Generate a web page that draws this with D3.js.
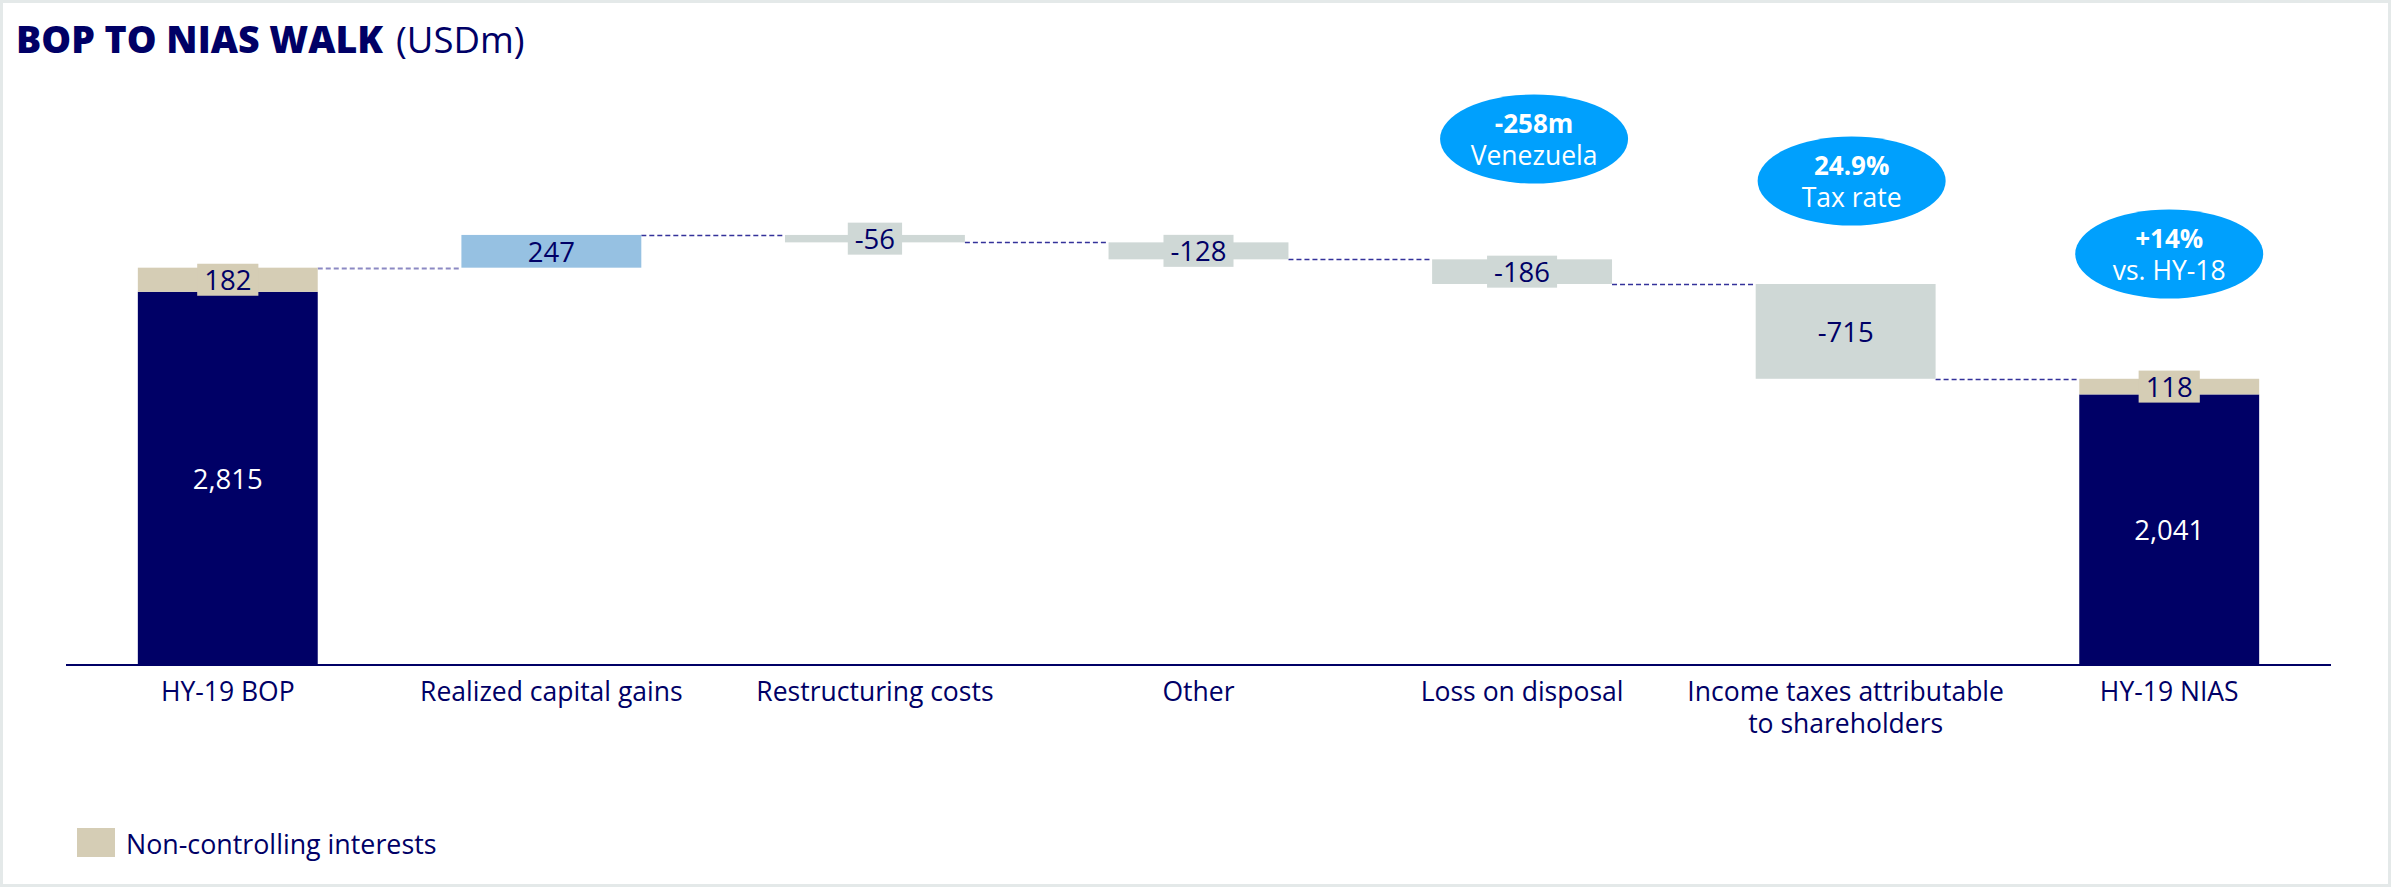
<!DOCTYPE html>
<html><head><meta charset="utf-8">
<script src="https://cdn.jsdelivr.net/npm/d3@7/dist/d3.min.js"></script>
<style>
html,body{margin:0;padding:0;background:#fff;}
svg{display:block;font-family:"Open Sans",sans-serif;}
</style></head>
<body>
<svg id="chart" width="2400" height="887"></svg>
<script>
// ---- data ----
const categories = ["HY-19 BOP","Realized capital gains","Restructuring costs","Other","Loss on disposal","Income taxes attributable to shareholders","HY-19 NIAS"];
const categoryLines = [["HY-19 BOP"],["Realized capital gains"],["Restructuring costs"],["Other"],["Loss on disposal"],["Income taxes attributable","to shareholders"],["HY-19 NIAS"]];
const barTypes = ["total","delta","delta","delta","delta","delta","total"];
const mainValues = [2815, 247, -56, -128, -186, -715, 2041];
const nciValues = [182, 0, 0, 0, 0, 0, 118];
const valueLabels = ["2,815","247","-56","-128","-186","-715","2,041"];
const nciLabels = ["182","","","","","","118"];
const bubbleCategories = ["Loss on disposal","Income taxes attributable to shareholders","HY-19 NIAS"];
const bubbleLine1 = ["-258m","24.9%","+14%"];
const bubbleLine2 = ["Venezuela","Tax rate","vs. HY-18"];
const legendLabel = "Non-controlling interests";

// ---- styles ----
const NAVY = "#000066", NCI = "#d5cdb5", POS = "#96c1e2", NEG = "#cfd8d6", BUBBLE = "#00a0fd";

const svg = d3.select("#chart");
// frame
svg.append("rect").attr("x",0).attr("y",0).attr("width",2400).attr("height",887).attr("fill","#fff");
svg.append("rect").attr("x",1.5).attr("y",1.5).attr("width",2388).attr("height",884).attr("fill","none").attr("stroke","#e4e9e9").attr("stroke-width",3);

const x = d3.scaleBand().domain(categories).range([66, 2331]).paddingInner(0.444).paddingOuter(0.222);
const y = d3.scaleLinear().domain([0, 3500]).range([665, 201]);

// build waterfall
let running = 0;
const bars = categories.map((c,i) => {
  const d = {cat:c, i};
  if (barTypes[i] === "total") {
    d.main = [0, mainValues[i]];
    d.nci = [mainValues[i], mainValues[i] + nciValues[i]];
    running = mainValues[i] + nciValues[i];
  } else {
    d.main = [running, running + mainValues[i]];
    running += mainValues[i];
  }
  d.end = running;
  return d;
});

const g = svg.append("g");

// connectors
for (let i = 0; i < bars.length - 1; i++) {
  const yy = Math.round(y(bars[i].end)) + 0.5;
  g.append("line")
    .attr("x1", x(categories[i]) + x.bandwidth()).attr("x2", x(categories[i+1]))
    .attr("y1", yy).attr("y2", yy)
    .attr("stroke", i === 0 ? "#8c89c3" : "#34329a")
    .attr("stroke-width", i === 0 ? 2 : 1.5)
    .attr("stroke-dasharray", "5,3");
}

// bars
bars.forEach((d,i) => {
  const lo = Math.min(...d.main), hi = Math.max(...d.main);
  const fill = barTypes[i] === "total" ? NAVY : (mainValues[i] >= 0 ? POS : NEG);
  g.append("rect").attr("x", x(d.cat)).attr("width", x.bandwidth())
    .attr("y", y(hi)).attr("height", y(lo) - y(hi)).attr("fill", fill);
  if (d.nci) {
    g.append("rect").attr("x", x(d.cat)).attr("width", x.bandwidth())
      .attr("y", y(d.nci[1])).attr("height", y(d.nci[0]) - y(d.nci[1])).attr("fill", NCI);
  }
});

// value labels
function boxedLabel(cx, cy, text, bg, color) {
  const t = g.append("text").attr("x", cx).attr("y", cy).attr("text-anchor","middle")
    .attr("dominant-baseline","central").attr("font-size",27.5).attr("fill",color).text(text);
  const w = t.node().getComputedTextLength();
  if (bg) {
    g.insert("rect", () => t.node()).attr("x", cx - w/2 - 7).attr("y", cy - 16)
      .attr("width", w + 14).attr("height", 32).attr("fill", bg);
  }
}
bars.forEach((d,i) => {
  const cx = x(d.cat) + x.bandwidth()/2;
  const lo = Math.min(...d.main), hi = Math.max(...d.main);
  const cy = (y(lo) + y(hi)) / 2;
  if (barTypes[i] === "total") {
    boxedLabel(cx, cy, valueLabels[i], null, "#fff");
    const ny = (y(d.nci[0]) + y(d.nci[1])) / 2;
    boxedLabel(cx, ny, nciLabels[i], NCI, NAVY);
  } else {
    const h = y(lo) - y(hi);
    const fill = mainValues[i] >= 0 ? POS : NEG;
    boxedLabel(cx, cy, valueLabels[i], h < 32 ? fill : null, NAVY);
  }
});

// axis
const axis = svg.append("g").attr("transform","translate(0,665)").call(d3.axisBottom(x).tickSize(0).tickFormat(""));
axis.select(".domain").attr("stroke", NAVY).attr("stroke-width", 2).attr("d","M66,0H2331");
axis.selectAll(".tick").each(function(c){
  const i = categories.indexOf(c);
  categoryLines[i].forEach((ln, k) => {
    d3.select(this).append("text").attr("fill", NAVY).attr("font-size",26.5)
      .attr("text-anchor","middle").attr("font-family","Open Sans, sans-serif")
      .attr("x",0).attr("y", 36 + k*32).text(ln);
  });
});

// bubbles
const bubbleCy = [139, 181, 254];
bubbleCategories.forEach((c,k) => {
  const cx = x(c) + x.bandwidth()/2 + (k === 0 ? 12 : (k === 1 ? 6 : 0));
  const cy = bubbleCy[k];
  svg.append("ellipse").attr("cx",cx).attr("cy",cy).attr("rx",94).attr("ry",44.5).attr("fill",BUBBLE);
  svg.append("text").attr("x",cx).attr("y",cy-6).attr("text-anchor","middle").attr("fill","#fff")
    .attr("font-size",26).attr("font-weight",700).text(bubbleLine1[k]);
  svg.append("text").attr("x",cx).attr("y",cy+26).attr("text-anchor","middle").attr("fill","#fff")
    .attr("font-size",26.5).text(bubbleLine2[k]);
});

// title
const title = svg.append("text").attr("x",16).attr("y",53).attr("fill",NAVY);
title.append("tspan").attr("font-size",37.5).attr("font-weight",800).text("BOP TO NIAS WALK");
title.append("tspan").attr("font-size",36.5).attr("dx",13).text("(USDm)");

// legend
svg.append("rect").attr("x",77).attr("y",828).attr("width",38).attr("height",29).attr("fill",NCI);
svg.append("text").attr("x",126).attr("y",854).attr("fill",NAVY).attr("font-size",26.8).text(legendLabel);
</script>
</body></html>
